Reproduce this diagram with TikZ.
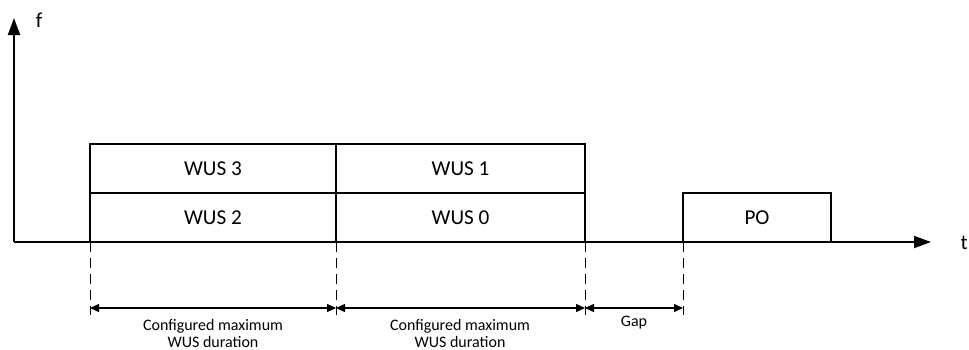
\documentclass[tikz,border=0pt]{standalone}
\usepackage{fontspec}
\setmainfont{Carlito}
\usetikzlibrary{arrows.meta,positioning}
\tikzset{
  wusbox/.style={draw, line width=1pt, outer sep=0pt, inner sep=0pt,
    minimum width=123pt, minimum height=24.5pt, font=\fontsize{10.6}{12}\selectfont},
  axis/.style={line width=1pt, -{Triangle[length=8.5pt,width=6pt]}},
  guide/.style={line width=0.5pt, dash pattern=on 5pt off 3pt},
  span/.style={line width=0.7pt, {Triangle[length=4.5pt,width=4pt]}-{Triangle[length=4.5pt,width=4pt]}},
  spanlabel/.style={align=center, font=\fontsize{8}{8.5}\selectfont, inner sep=0pt}
}
\begin{document}
\begin{tikzpicture}[x=0.5pt, y=-0.5pt]
    \useasboundingbox[fill=white] (0,0) rectangle (969,349);

    % axes
    \coordinate (o) at (14,242);
    \coordinate (ftip) at (14,18);
    \coordinate (ttip) at (931,242);
    \draw[axis] (o) -- (ftip);
    \draw[axis] (o) -- (ttip);
    \node[font=\fontsize{10.6}{12}\selectfont] (f) at (39,20) {f};
    \node[anchor=east, inner sep=0pt, font=\fontsize{10.6}{12}\selectfont] (t) at (968,243) {t};

    % WUS resources
    \node[wusbox, anchor=south west] (wus2) at (90,242) {WUS 2};
    \node[wusbox, above=0pt of wus2] (wus3) {WUS 3};
    \node[wusbox, right=0pt of wus2, minimum width=124.5pt] (wus0) {WUS 0};
    \node[wusbox, above=0pt of wus0, minimum width=124.5pt] (wus1) {WUS 1};
    \node[wusbox, anchor=south west, minimum width=74pt] (po) at (683,242) {PO};

    % dashed guides
    \coordinate (e1) at (90,315);
    \coordinate (e2) at (336,315);
    \coordinate (e3) at (585,315);
    \coordinate (e4) at (683,315);
    \draw[guide] (wus2.south west) -- (e1);
    \draw[guide] (wus2.south east) -- (e2);
    \draw[guide] (wus0.south east) -- (e3);
    \draw[guide] (po.south west) -- (e4);

    % durations
    \coordinate (m1) at (90,308);
    \coordinate (m2) at (336,308);
    \coordinate (m3) at (585,308);
    \coordinate (m4) at (683,308);
    \draw[span] (m1) -- (m2);
    \draw[span] (m2) -- (m3);
    \draw[span] (m3) -- (m4);
    \node[spanlabel] (l1) at (213,333) {Configured maximum\\WUS duration};
    \node[spanlabel] (l2) at (460,333) {Configured maximum\\WUS duration};
    \node[spanlabel] (l3) at (634,323) {Gap};
\end{tikzpicture}
\end{document}
